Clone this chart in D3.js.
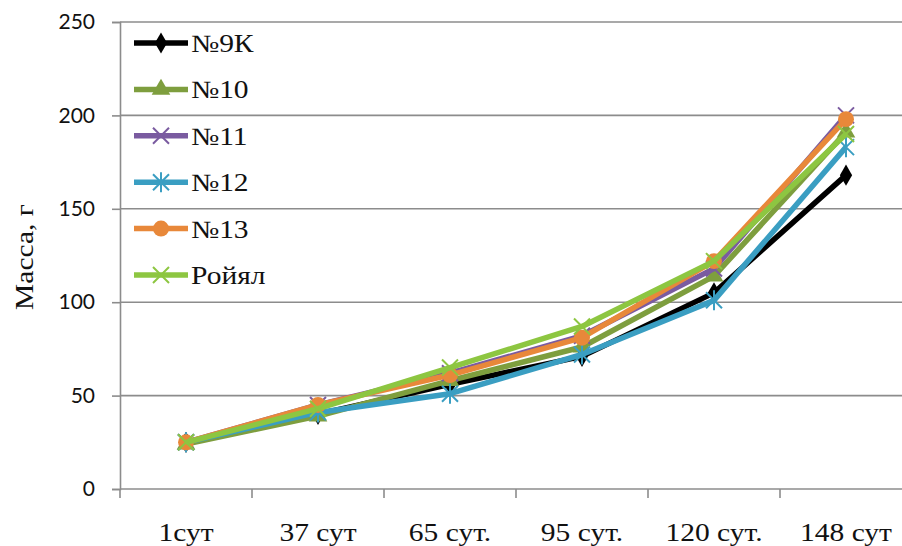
<!DOCTYPE html>
<html>
<head>
<meta charset="utf-8">
<script src="https://cdn.jsdelivr.net/npm/d3@7/dist/d3.min.js"></script>
<style>
  html, body { margin: 0; padding: 0; background: #fff; }
  svg { display: block; }
</style>
</head>
<body>
<svg id="chart" width="902" height="546"></svg>
<script>
// Growth of fruit mass, grams, by day of observation
const categories = ["1сут", "37 сут", "65 сут.", "95 сут.", "120 сут.", "148 сут"];
const seriesNames = ["№9К", "№10", "№11", "№12", "№13", "Ройял"];
const s9K   = [25, 40, 56, 71, 105, 168];
const s10   = [24, 39, 58, 76, 114, 191];
const s11   = [25, 45, 62, 82, 118, 200];
const s12   = [25, 41, 51, 72, 101, 183];
const s13   = [25, 45, 61, 81, 122, 198];
const sRoyal = [25, 43, 65, 87, 122, 190];
const yTicks = [0, 50, 100, 150, 200, 250];
const yLabel = "Масса, г";

const seriesValues = [s9K, s10, s11, s12, s13, sRoyal];
const colors = ["#000000", "#7E9E3E", "#7A5BA0", "#3A9EC2", "#E8883A", "#8DC641"];
const markers = ["diamond", "triangle", "x", "star", "circle", "x"];

const serif = "'Liberation Serif', 'Times New Roman', Times, serif";
const stretch = 1.18;

const svg = d3.select("#chart");
const x = d3.scaleBand().domain(categories).range([120, 912]);
const y = d3.scaleLinear().domain([0, 250]).range([489, 22]);

// gridlines
svg.append("g").selectAll("line").data(yTicks.filter(d => d > 0)).join("line")
  .attr("x1", 120).attr("x2", 902)
  .attr("y1", d => y(d)).attr("y2", d => y(d))
  .attr("stroke", "#8c8c8c").attr("stroke-width", 1.6);

// y axis
const yAxis = svg.append("g").attr("transform", "translate(120,0)")
  .call(d3.axisLeft(y).tickValues(yTicks).tickSize(8).tickPadding(17));
yAxis.select(".domain").attr("stroke", "#8c8c8c").attr("stroke-width", 1.6);
yAxis.selectAll(".tick line").attr("stroke", "#8c8c8c").attr("stroke-width", 1.6);
yAxis.selectAll(".tick text")
  .attr("font-family", "Lato, 'Open Sans', sans-serif")
  .attr("font-size", 21).attr("fill", "#111");

// x axis
const xAxis = svg.append("g").attr("transform", "translate(0,489)");
xAxis.append("line").attr("x1", 120).attr("x2", 902).attr("y1", 0).attr("y2", 0)
  .attr("stroke", "#8c8c8c").attr("stroke-width", 1.6);
xAxis.selectAll("line.tk").data(categories.concat([null])).join("line")
  .attr("class", "tk")
  .attr("x1", (d, i) => 120 + i * x.step()).attr("x2", (d, i) => 120 + i * x.step())
  .attr("y1", 0).attr("y2", 9)
  .attr("stroke", "#8c8c8c").attr("stroke-width", 1.6);
xAxis.selectAll("text").data(categories).join("text")
  .attr("transform", d => `translate(${x(d) + x.bandwidth() / 2},${52}) scale(${stretch},1)`)
  .attr("text-anchor", "middle")
  .attr("font-family", serif)
  .attr("font-size", 25).attr("fill", "#111")
  .text(d => d);

// y axis title
svg.append("text")
  .attr("transform", `translate(33,257) rotate(-90) scale(${stretch},1)`)
  .attr("text-anchor", "middle")
  .attr("font-family", serif)
  .attr("font-size", 25).attr("fill", "#111")
  .text(yLabel);

function markerPath(kind) {
  if (kind === "diamond") return d3.symbol(d3.symbolDiamond, 130)();
  if (kind === "triangle") return d3.symbol(d3.symbolTriangle, 150)();
  if (kind === "circle") return d3.symbol(d3.symbolCircle, 200)();
  if (kind === "x") return "M-8,-8L8,8M-8,8L8,-8";
  if (kind === "star") return "M-8,-8L8,8M-8,8L8,-8M0,-10L0,10";
  return "";
}
function drawMarker(g, kind, color, cx, cy) {
  const p = g.append("path").attr("d", markerPath(kind))
    .attr("transform", `translate(${cx},${cy})`);
  if (kind === "x" || kind === "star") {
    p.attr("fill", "none").attr("stroke", color).attr("stroke-width", 2);
  } else {
    p.attr("fill", color);
  }
}

const line = d3.line()
  .x((d, i) => x(categories[i]) + x.bandwidth() / 2)
  .y(d => y(d));

const plot = svg.append("g");
seriesValues.forEach((vals, si) => {
  const g = plot.append("g");
  g.append("path").datum(vals).attr("d", line)
    .attr("fill", "none").attr("stroke", colors[si]).attr("stroke-width", 5.5)
    .attr("stroke-linejoin", "round");
  vals.forEach((v, i) => {
    drawMarker(g, markers[si], colors[si], x(categories[i]) + x.bandwidth() / 2, y(v));
  });
});

// legend
const legend = svg.append("g");
seriesNames.forEach((name, i) => {
  const cy = 43 + i * 46.4;
  const g = legend.append("g");
  g.append("line").attr("x1", 134).attr("x2", 188).attr("y1", cy).attr("y2", cy)
    .attr("stroke", colors[i]).attr("stroke-width", 5.5);
  drawMarker(g, markers[i], colors[i], 161, cy);
  g.append("text").attr("transform", `translate(191,${cy + 9}) scale(${stretch},1)`)
    .attr("font-family", serif)
    .attr("font-size", 25).attr("fill", "#111")
    .text(name);
});
</script>
</body>
</html>
